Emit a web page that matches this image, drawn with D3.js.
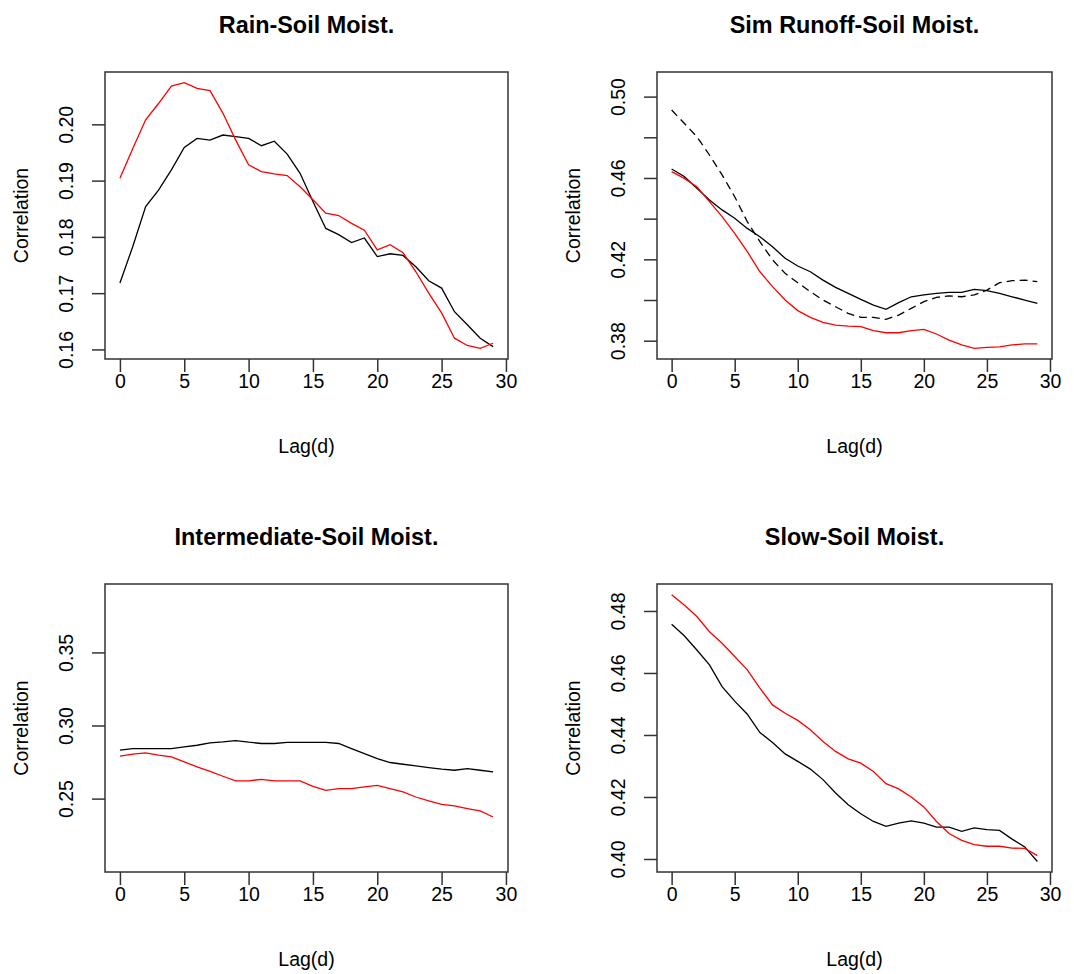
<!DOCTYPE html>
<html>
<head>
<meta charset="utf-8">
<script src="https://cdn.jsdelivr.net/npm/d3@7"></script>
<style>
  body { margin: 0; background: #fff; }
  svg text { font-family: "Liberation Sans", Arial, sans-serif; fill: #000; }
</style>
</head>
<body>
<div id="chart"></div>
<script>
// lag in days
var lags = [0,1,2,3,4,5,6,7,8,9,10,11,12,13,14,15,16,17,18,19,20,21,22,23,24,25,26,27,28,29];

// Rain-Soil Moist.
var rainBlack = [0.1718,0.1783,0.1854,0.1883,0.1919,0.1959,0.1975,0.1972,0.1981,0.1978,
                 0.1975,0.1962,0.1970,0.1947,0.1913,0.1863,0.1815,0.1804,0.1790,0.1798,
                 0.1765,0.1770,0.1767,0.1747,0.1722,0.1709,0.1667,0.1644,0.1620,0.1605];
var rainRed   = [0.1904,0.1957,0.2008,0.2037,0.2068,0.2074,0.2064,0.2060,0.2020,0.1972,
                 0.1928,0.1916,0.1912,0.1909,0.1889,0.1866,0.1842,0.1838,0.1824,0.1812,
                 0.1777,0.1786,0.1772,0.1738,0.1700,0.1665,0.1620,0.1607,0.1602,0.1611];

// Sim Runoff-Soil Moist.
var runoffBlack  = [0.4644,0.4607,0.4549,0.4492,0.4443,0.4402,0.4352,0.4311,0.4262,0.4205,
                    0.4167,0.4139,0.4098,0.4062,0.4033,0.4003,0.3975,0.3954,0.3987,0.4016,
                    0.4025,0.4033,0.4038,0.4038,0.4052,0.4046,0.4033,0.4016,0.4000,0.3984];
var runoffDashed = [0.4934,0.4869,0.4803,0.4713,0.4615,0.4508,0.4385,0.4287,0.4197,0.4131,
                    0.4085,0.4041,0.4000,0.3967,0.3934,0.3915,0.3915,0.3905,0.3926,0.3959,
                    0.3992,0.4013,0.4020,0.4016,0.4025,0.4049,0.4085,0.4095,0.4098,0.4090];
var runoffRed    = [0.4631,0.4598,0.4557,0.4484,0.4410,0.4328,0.4238,0.4139,0.4066,0.4000,
                    0.3948,0.3915,0.3890,0.3877,0.3872,0.3869,0.3849,0.3839,0.3839,0.3849,
                    0.3856,0.3833,0.3803,0.3779,0.3762,0.3767,0.3770,0.3779,0.3784,0.3784];

// Intermediate-Soil Moist.
var interBlack = [0.2831,0.2842,0.2842,0.2842,0.2842,0.2854,0.2865,0.2881,0.2888,0.2897,
                  0.2886,0.2877,0.2877,0.2884,0.2884,0.2884,0.2884,0.2877,0.2842,0.2808,
                  0.2774,0.2747,0.2735,0.2724,0.2712,0.2701,0.2694,0.2705,0.2694,0.2683];
var interRed   = [0.2790,0.2804,0.2813,0.2797,0.2785,0.2751,0.2717,0.2687,0.2653,0.2621,
                  0.2621,0.2632,0.2621,0.2621,0.2621,0.2584,0.2557,0.2568,0.2568,0.2580,
                  0.2591,0.2568,0.2546,0.2511,0.2484,0.2461,0.2450,0.2432,0.2416,0.2374];

// Slow-Soil Moist.
var slowBlack = [0.4757,0.4720,0.4674,0.4626,0.4556,0.4509,0.4467,0.4408,0.4376,0.4339,
                 0.4315,0.4290,0.4256,0.4213,0.4175,0.4146,0.4121,0.4105,0.4116,0.4123,
                 0.4116,0.4103,0.4103,0.4089,0.4100,0.4095,0.4092,0.4064,0.4039,0.3992];
var slowRed   = [0.4852,0.4819,0.4782,0.4733,0.4696,0.4653,0.4610,0.4551,0.4497,0.4470,
                 0.4447,0.4417,0.4379,0.4347,0.4323,0.4309,0.4282,0.4243,0.4226,0.4200,
                 0.4168,0.4121,0.4082,0.4060,0.4046,0.4041,0.4041,0.4035,0.4034,0.4011];

var titles = ["Rain-Soil Moist.", "Sim Runoff-Soil Moist.", "Intermediate-Soil Moist.", "Slow-Soil Moist."];

// axis ranges (as drawn by R) and tick values
var yRangeRain   = [0.1583, 0.2093];
var yRangeRunoff = [0.3710, 0.5121];
var yRangeInter  = [0.1998, 0.3968];
var yRangeSlow   = [0.3958, 0.4887];

var yTicksRain   = [0.16, 0.17, 0.18, 0.19, 0.20];
var yTicksRunoff = [0.38, 0.40, 0.42, 0.44, 0.46, 0.48, 0.50];
var yTicksInter  = [0.25, 0.30, 0.35];
var yTicksSlow   = [0.40, 0.42, 0.44, 0.46, 0.48];

// labels R kept (overlapping ones dropped)
var yLabelsRunoff = [0.38, 0.42, 0.46, 0.50];

var xTicks = [0, 5, 10, 15, 20, 25, 30];

var width = 1074, height = 974;
var fontSize = 19.5;

var svg = d3.select("#chart")
    .append("svg")
    .attr("width", width)
    .attr("height", height);

// plot boxes
var boxLeft = [105, 657], boxRight = [508, 1052];
var boxTop = [72, 584], boxBottom = [359, 872];

var panels = [
  { title: titles[0], col: 0, row: 0, yRange: yRangeRain, yTicks: yTicksRain, yLabels: yTicksRain,
    series: [{ values: rainBlack, color: "#000" }, { values: rainRed, color: "#ff0000" }] },
  { title: titles[1], col: 1, row: 0, yRange: yRangeRunoff, yTicks: yTicksRunoff, yLabels: yLabelsRunoff,
    series: [{ values: runoffDashed, color: "#000", dash: "8,5" }, { values: runoffBlack, color: "#000" },
             { values: runoffRed, color: "#ff0000" }] },
  { title: titles[2], col: 0, row: 1, yRange: yRangeInter, yTicks: yTicksInter, yLabels: yTicksInter,
    series: [{ values: interBlack, color: "#000" }, { values: interRed, color: "#ff0000" }] },
  { title: titles[3], col: 1, row: 1, yRange: yRangeSlow, yTicks: yTicksSlow, yLabels: yTicksSlow,
    series: [{ values: slowBlack, color: "#000" }, { values: slowRed, color: "#ff0000" }] }
];

function drawPanel(p) {
  var x0 = boxLeft[p.col], x1 = boxRight[p.col];
  var y0 = boxTop[p.row], y1 = boxBottom[p.row];

  // R pads the x range by 4% each side
  var pad = (d3.max(lags) - d3.min(lags)) * 0.04;
  var x = d3.scaleLinear()
      .domain([d3.min(lags) - pad, d3.max(lags) + pad])
      .range([x0, x1]);
  var y = d3.scaleLinear()
      .domain(p.yRange)
      .range([y1, y0]);

  var g = svg.append("g").attr("class", "panel");

  // title
  g.append("text")
      .attr("x", (x0 + x1) / 2)
      .attr("y", y0 - 39)
      .attr("text-anchor", "middle")
      .style("font-size", (fontSize * 1.2) + "px")
      .style("font-weight", "bold")
      .text(p.title);

  // x axis
  var xAxis = d3.axisBottom(x)
      .tickValues(xTicks)
      .tickSize(13)
      .tickPadding(16)
      .tickFormat(d3.format("d"));
  var xg = g.append("g")
      .attr("transform", `translate(0, ${y1})`)
      .call(xAxis);
  xg.select(".domain").remove();
  xg.selectAll("line").attr("stroke", "#333").attr("stroke-width", 1.5);
  xg.selectAll("text")
      .style("font-size", fontSize + "px")
      .attr("font-family", null)
      .attr("dy", null);

  // y axis
  var yAxis = d3.axisLeft(y)
      .tickValues(p.yTicks)
      .tickSize(13)
      .tickFormat(function(d) {
        var keep = p.yLabels.some(function(v) { return Math.abs(v - d) < 1e-9; });
        return keep ? d3.format(".2f")(d) : "";
      });
  var yg = g.append("g")
      .attr("transform", `translate(${x0}, 0)`)
      .call(yAxis);
  yg.select(".domain").remove();
  yg.selectAll("line").attr("stroke", "#333").attr("stroke-width", 1.5);
  yg.selectAll("text")
      .style("font-size", fontSize + "px")
      .attr("x", null)
      .attr("dy", null)
      .attr("text-anchor", "middle")
      .attr("transform", function() {
        return "translate(-32,0) rotate(-90)";
      });

  // axis titles
  g.append("text")
      .attr("x", (x0 + x1) / 2)
      .attr("y", y1 + 94)
      .attr("text-anchor", "middle")
      .style("font-size", fontSize + "px")
      .text("Lag(d)");

  g.append("text")
      .attr("transform", `translate(${x0 - 77}, ${(y0 + y1) / 2}) rotate(-90)`)
      .attr("text-anchor", "middle")
      .style("font-size", fontSize + "px")
      .text("Correlation");

  // lines
  var line = d3.line()
      .x(function(d, i) { return x(lags[i]); })
      .y(function(d) { return y(d); });

  p.series.forEach(function(s) {
    g.append("path")
        .datum(s.values)
        .attr("fill", "none")
        .attr("stroke", s.color)
        .attr("stroke-width", 1.3)
        .attr("stroke-dasharray", s.dash || null)
        .attr("d", line);
  });

  // box
  g.append("rect")
      .attr("x", x0)
      .attr("y", y0)
      .attr("width", x1 - x0)
      .attr("height", y1 - y0)
      .attr("fill", "none")
      .attr("stroke", "#333")
      .attr("stroke-width", 1.5);
}

panels.forEach(drawPanel);
</script>
</body>
</html>
